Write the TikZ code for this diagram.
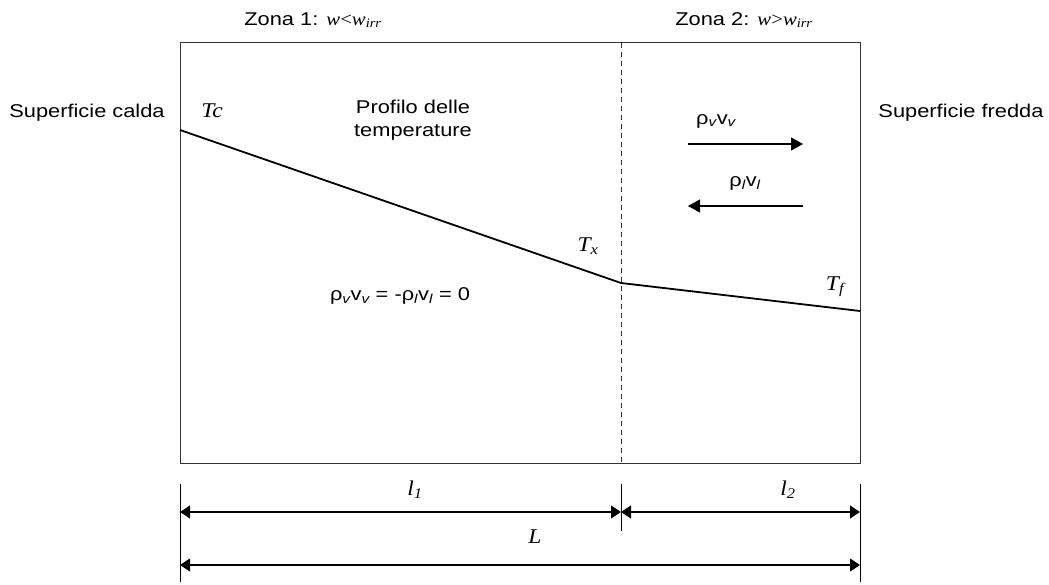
\documentclass[tikz,border=0pt]{standalone}
\usepackage{fontspec}
\setmainfont{Liberation Sans}[FakeStretch=1.18]
\newfontfamily\tnr{Liberation Serif}[FakeStretch=1.12]
\usetikzlibrary{arrows.meta}
\newcommand{\tv}[1]{{\tnr\itshape #1}}

\begin{document}
\begin{tikzpicture}[
  x=1pt, y=-1pt,
  lbl/.style={font=\fontsize{18.5}{22.5}\selectfont, inner sep=0pt},
  sym/.style={font=\fontsize{21}{24}\selectfont\tnr\itshape, inner sep=0pt},
  frame/.style={draw=black!80, line width=1pt},
  profile/.style={line width=1.8pt},
  flux/.style={line width=1.2pt, -{Triangle[length=12pt, width=13pt]}},
  dim/.style={line width=1.2pt, {Triangle[length=10pt, width=13pt]}-{Triangle[length=10pt, width=13pt]}},
  tick/.style={line width=1pt},
]
\useasboundingbox (0,0) rectangle (1049,585);

% Box and zone divider
\draw[frame] (180,43) rectangle (860,463);
\coordinate (divtop) at (621,43);
\coordinate (divbot) at (621,463);
\draw[frame, dashed, dash pattern=on 5pt off 4pt] (divtop) -- (divbot);

% Surface and zone labels
\node[lbl] (calda) at (87,113) {Superficie calda};
\node[lbl] (fredda) at (961,113) {Superficie fredda};
\node[lbl] (zona1) at (313,20) {Zona 1: \tv{w}{\tnr<}\tv{w\textsubscript{irr}}};
\node[lbl] (zona2) at (744,20) {Zona 2: \tv{w}{\tnr>}\tv{w\textsubscript{irr}}};

% Temperature profile
\coordinate (pc) at (180,130);
\coordinate (px) at (621,283);
\coordinate (pf) at (860,311);
\draw[profile] (pc) -- (px) -- (pf);
\node[sym] (tc) at (212,111) {Tc};
\node[sym] (tx) at (588,246) {T\textsubscript{x}};
\node[sym] (tf) at (835,287) {T\textsubscript{f}};
\node[lbl, align=center] (profilo) at (413,120) {Profilo delle\\temperature};

% Fluxes
\node[lbl] (flux0) at (400,296) {ρ\textsubscript{\itshape v}v\textsubscript{\itshape v} = -ρ\textsubscript{\itshape l}v\textsubscript{\itshape l} = 0};
\node[lbl] (fluxv) at (716,121) {ρ\textsubscript{\itshape v}v\textsubscript{\itshape v}};
\node[lbl] (fluxl) at (745,183) {ρ\textsubscript{\itshape l}v\textsubscript{\itshape l}};
\coordinate (va) at (688,144);
\coordinate (vb) at (803,144);
\coordinate (la) at (803,206);
\coordinate (lb) at (688,206);
\draw[flux] (va) -- (vb);
\draw[flux] (la) -- (lb);

% Dimensions
\coordinate (d0) at (180,484);
\coordinate (d1) at (621,484);
\coordinate (d2) at (860,484);
\draw[tick] (d0) -- ++(0,98);
\draw[tick] (d1) -- ++(0,47);
\draw[tick] (d2) -- ++(0,98);
\coordinate (a0) at (180,512);
\coordinate (a1) at (621,512);
\coordinate (a2) at (860,512);
\coordinate (b0) at (180,565);
\coordinate (b2) at (860,565);
\draw[dim] (a0) -- (a1);
\draw[dim] (a1) -- (a2);
\draw[dim] (b0) -- (b2);
\node[sym] (l1) at (415,490) {l\textsubscript{1}};
\node[sym] (l2) at (788,490) {l\textsubscript{2}};
\node[sym] (ll) at (535,537) {L};
\end{tikzpicture}
\end{document}
